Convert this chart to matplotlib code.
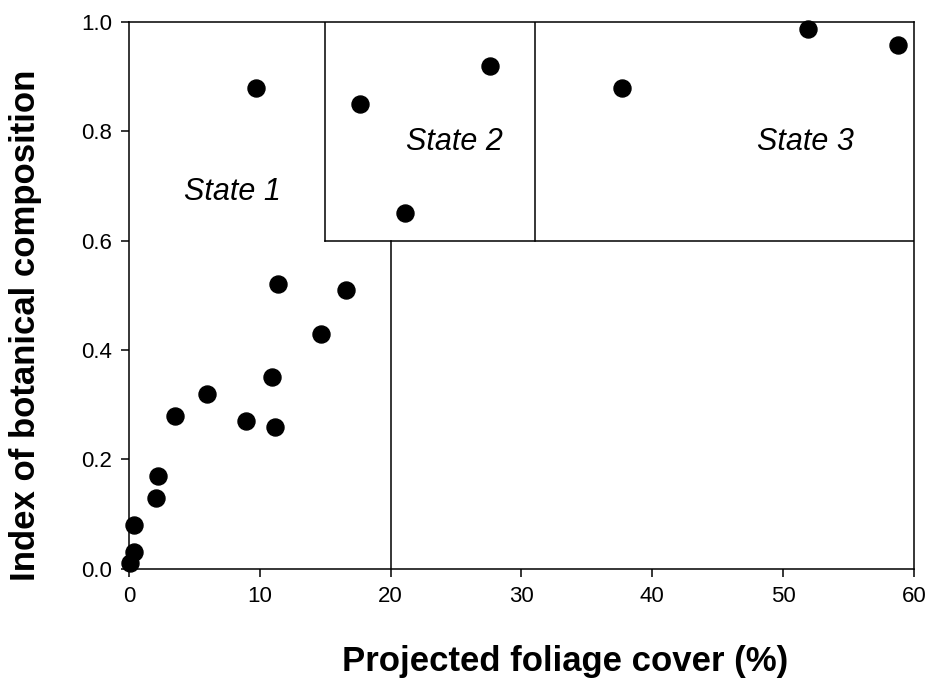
import matplotlib
matplotlib.use("Agg")
import matplotlib.pyplot as plt

# foliage cover (%) vs botanical composition index
cover = [0.1, 0.4, 0.4, 2.1, 2.25, 3.5, 6.0, 8.95, 11.2, 10.95, 11.4,
         14.7, 16.6, 9.7, 17.65, 21.1, 27.6, 37.7, 51.9, 58.8]
index = [0.01, 0.03, 0.08, 0.13, 0.17, 0.28, 0.32, 0.27, 0.26, 0.35, 0.52,
         0.43, 0.51, 0.88, 0.85, 0.65, 0.92, 0.88, 0.987, 0.957]

# state boundaries: (x0, x1, y0, y1)
boundaries = [
    (20, 20, 0.0, 0.6),
    (15, 60, 0.6, 0.6),
    (15, 15, 0.6, 1.0),
    (31, 31, 0.6, 1.0),
]

state_labels = ["State 1", "State 2", "State 3"]
label_x = [7.9, 24.9, 51.7]
label_y = [0.69, 0.78, 0.78]

plt.rcParams["font.family"] = ["Liberation Sans", "DejaVu Sans"]

fig = plt.figure(figsize=(9.27, 6.87), dpi=100)
ax = fig.add_axes([0.139, 0.172, 0.847, 0.796])

for x0, x1, y0, y1 in boundaries:
    ax.plot([x0, x1], [y0, y1], color="black", lw=1.1)

ax.scatter(cover, index, s=150, color="black", zorder=3, clip_on=False)

for txt, tx, ty in zip(state_labels, label_x, label_y):
    ax.text(tx, ty, txt, fontsize=22, style="italic", ha="center", va="center")

ax.set_xlim(0, 60)
ax.set_ylim(0, 1.0)
ax.set_xticks(range(0, 61, 10))
ax.set_yticks([0.0, 0.2, 0.4, 0.6, 0.8, 1.0])
ax.set_yticklabels(["0.0", "0.2", "0.4", "0.6", "0.8", "1.0"])
ax.tick_params(direction="out", length=6, width=1.1, labelsize=16, pad=6)
for sp in ax.spines.values():
    sp.set_linewidth(1.1)

# labels sit a little off-centre in the original scan
ax.set_xlabel("Projected foliage cover (%)", fontsize=25, fontweight="bold")
ax.xaxis.set_label_coords(0.556, -0.14)
ax.set_ylabel("Index of botanical composition", fontsize=25, fontweight="bold")
ax.yaxis.set_label_coords(-0.11, 0.445)

fig.savefig("out.png", dpi=100)
plt.close(fig)
